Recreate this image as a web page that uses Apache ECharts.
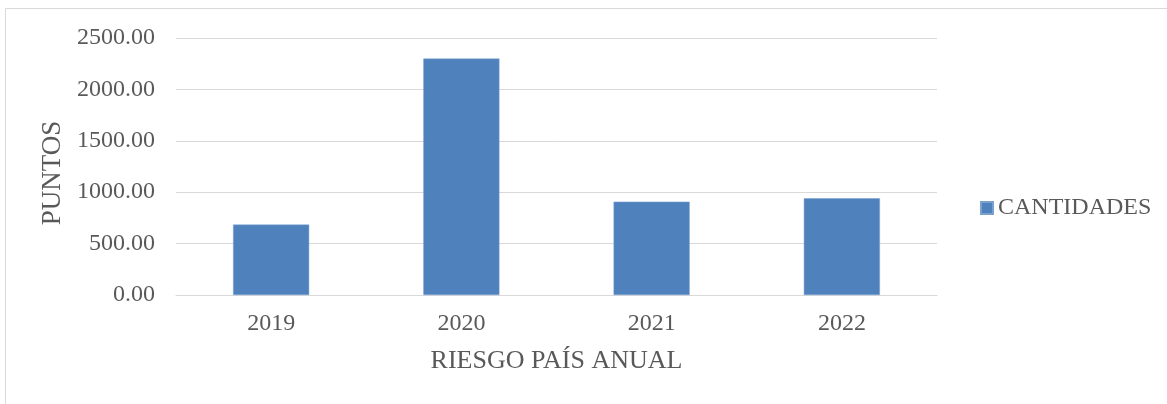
<!DOCTYPE html>
<html><head><meta charset="utf-8">
<script src="https://cdn.jsdelivr.net/npm/echarts@6/dist/echarts.min.js"></script>
<style>html,body{margin:0;padding:0;background:#fff}#c{width:1167px;height:404px}</style>
</head><body><div id="c"></div>
<script>
const categories = ['2019', '2020', '2021', '2022'];
const seriesName = 'CANTIDADES';
const values = [685, 2300, 908, 941];
const xTitle = 'RIESGO PAÍS ANUAL';
const yTitle = 'PUNTOS';

const font = 'Liberation Serif, Times New Roman, serif';
const txt = '#595959';
const chart = echarts.init(document.getElementById('c'), null, {renderer: 'canvas'});
chart.setOption({
  animation: false,
  graphic: [
    {type: 'line', shape: {x1: 5.5, y1: 8.5, x2: 1167, y2: 8.5}, style: {stroke: '#d9d9d9', lineWidth: 1}, silent: true},
    {type: 'line', shape: {x1: 5.5, y1: 8.5, x2: 5.5, y2: 404}, style: {stroke: '#d9d9d9', lineWidth: 1}, silent: true}
  ],
  grid: {left: 176, right: 230, top: 38, bottom: 109, containLabel: false},
  legend: {
    data: [seriesName], orient: 'vertical', left: 980, top: 196, padding: 0,
    icon: 'rect', itemWidth: 12, itemHeight: 12, itemGap: 6,
    textStyle: {fontFamily: font, fontSize: 24, color: txt}
  },
  xAxis: {
    type: 'category', data: categories,
    name: xTitle, nameLocation: 'middle', nameGap: 53,
    nameTextStyle: {fontFamily: font, fontSize: 26, color: txt},
    axisLine: {show: true, lineStyle: {color: '#d9d9d9', width: 1}},
    axisTick: {show: false},
    axisLabel: {fontFamily: font, fontSize: 24, color: txt, margin: 17}
  },
  yAxis: {
    type: 'value', min: 0, max: 2500, interval: 500,
    name: yTitle, nameLocation: 'middle', nameGap: 108, nameRotate: 90,
    nameTextStyle: {fontFamily: font, fontSize: 27, color: txt, padding: [0, 13, 0, 0]},
    axisLine: {show: false}, axisTick: {show: false},
    splitLine: {lineStyle: {color: '#d9d9d9', width: 1}},
    axisLabel: {fontFamily: font, fontSize: 24, color: txt, margin: 21, formatter: v => v.toFixed(2)}
  },
  series: [{
    name: seriesName, type: 'bar', data: values, barWidth: '40%',
    itemStyle: {color: '#4f81bd', borderColor: '#7aa0d0', borderWidth: 0.5}
  }]
});
</script></body></html>
